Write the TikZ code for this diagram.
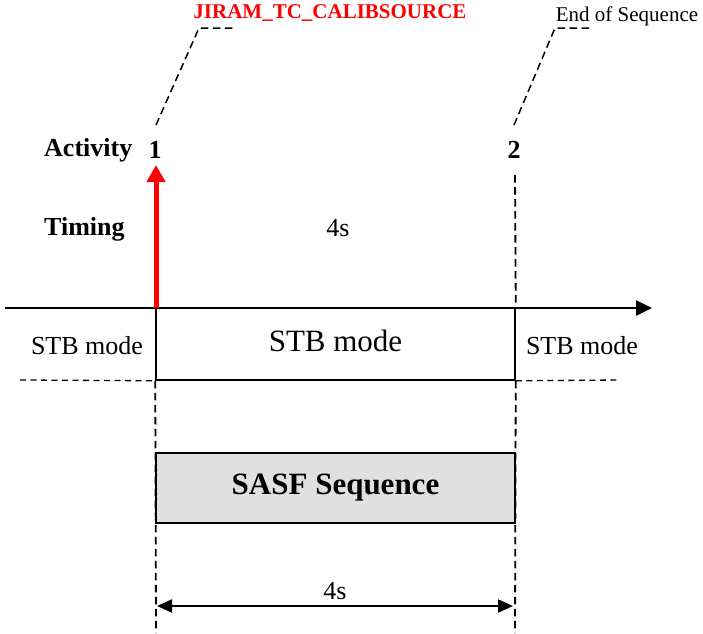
\documentclass[tikz,border=0pt]{standalone}
\usepackage{fontspec}
\setmainfont{Liberation Serif}
\usetikzlibrary{arrows.meta}
\tikzset{
  dline/.style={dash pattern=on 6pt off 4.5pt, line width=1.3pt},
  vdline/.style={dash pattern=on 7.5pt off 4.5pt, line width=1.8pt},
  boxline/.style={draw, line width=1.5pt},
  lbl/.style={inner sep=0pt, font=\fontsize{26}{30}\selectfont\bfseries},
  small/.style={inner sep=0pt, font=\fontsize{26}{30}\selectfont},
}
\begin{document}
\begin{tikzpicture}[x=1pt,y=-1pt]
\useasboundingbox (0,0) rectangle (703,633);
% coordinates
\coordinate (t0) at (5,308);
\coordinate (t1) at (652,308);
\coordinate (a1) at (156,308);
\coordinate (a1top) at (156,165);
% boxes
\node[boxline, minimum width=359pt, minimum height=72pt, inner sep=0pt] (stb) at (335.5,344) {};
\node[font=\fontsize{31}{36}\selectfont, inner sep=0pt] (stbt) at (335.5,341) {STB mode};
\node[boxline, fill={rgb,255:red,224;green,224;blue,224}, minimum width=359pt, minimum height=70pt, inner sep=0pt] (sasf) at (335.5,488) {};
\node[font=\fontsize{31}{36}\selectfont\bfseries, inner sep=0pt] (sasft) at (335.5,488) {SASF Sequence};
% side labels
\node[small] (stbl) at (87,346) {STB mode};
\node[small] (stbr) at (582,346) {STB mode};
% dashed horizontals
\coordinate (hl0) at (20,380);
\coordinate (hr1) at (620,380);
\draw[dline] (hl0) -- (stb.south west);
\draw[dline] (stb.south east) -- (hr1);
% vertical dashed lines
\coordinate (vl1) at (156,633);
\coordinate (vr0) at (515,175);
\coordinate (vr1) at (515,633);
\draw[vdline] (stb.south west) -- (vl1);
\draw[vdline] (vr0) -- (stb.north east);
\draw[vdline] (stb.south east) -- (vr1);
% timeline
\draw[line width=2.5pt, -{Triangle[length=16pt,width=15pt]}] (t0) -- (t1);
% red arrow
\draw[red, line width=5pt, -{Triangle[length=17pt,width=18pt]}] (a1) -- (a1top);
% labels
\node[lbl, anchor=west] (act) at (44,150) {Activity};
\node[lbl] (n1) at (155,150) {1};
\node[lbl] (n2) at (514,150) {2};
\node[lbl, anchor=west] (tim) at (44,229) {Timing};
\node[small] (t4s) at (338,228) {4s};
% double arrow
\coordinate (d0) at (157,606);
\coordinate (d1) at (513,606);
\draw[line width=2pt, {Triangle[length=15pt,width=13pt]}-{Triangle[length=15pt,width=13pt]}] (d0) -- (d1);
\node[small] (b4s) at (335,591) {4s};
% leaders
\coordinate (l1a) at (156,125);
\coordinate (l1b) at (199,28);
\coordinate (l1c) at (235,28);
\draw[vdline, line width=1.5pt] (l1a) -- (l1b) -- (l1c);
\node[inner sep=0pt, text=red, font=\fontsize{21}{25}\selectfont\bfseries] (jiram) at (330,13) {JIRAM\_TC\_CALIBSOURCE};
\coordinate (l2a) at (514,125);
\coordinate (l2b) at (555,28);
\coordinate (l2c) at (592,28);
\draw[vdline, line width=1.5pt] (l2a) -- (l2b) -- (l2c);
\node[inner sep=0pt, font=\fontsize{21}{25}\selectfont] (eos) at (627,16) {End of Sequence};
\end{tikzpicture}
\end{document}
